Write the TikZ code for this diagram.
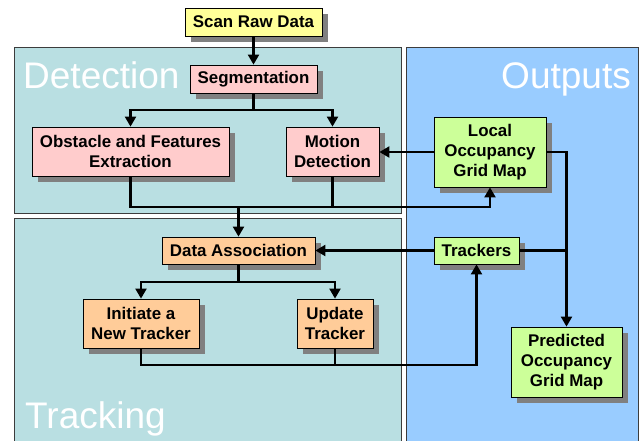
\documentclass[tikz,border=0pt]{standalone}
\usepackage{fontspec}
\setmainfont{Liberation Sans}
\usetikzlibrary{arrows.meta,shadows,calc}
\definecolor{panelcyan}{RGB}{185,223,226}
\definecolor{panelblue}{RGB}{153,204,255}
\definecolor{byellow}{RGB}{255,255,153}
\definecolor{bpink}{RGB}{255,204,204}
\definecolor{borange}{RGB}{255,204,153}
\definecolor{bgreen}{RGB}{204,255,153}
\definecolor{shadowgray}{RGB}{128,128,128}
\definecolor{paneledge}{RGB}{60,60,60}
\tikzset{
  box/.style={draw=black, line width=0.8pt, align=center, inner sep=0pt,
    font=\fontsize{16.9}{20}\selectfont\bfseries,
    drop shadow={shadow xshift=6pt, shadow yshift=-6pt, fill=shadowgray, opacity=1}},
  panel/.style={draw=paneledge, line width=0.9pt},
  biglabel/.style={text=white, font=\fontsize{37}{40}\selectfont, inner sep=0pt},
  ln/.style={draw=black, line width=2.1pt},
  arr/.style={ln, -{Triangle[length=10pt,width=11pt]}}
}
\begin{document}
\begin{tikzpicture}[x=1pt,y=-1pt]
\useasboundingbox (0,0) rectangle (639,440);
\fill[white] (0,0) rectangle (639,440);
% panels
\draw[panel, fill=panelcyan] (14,47) rectangle (401,213);
\draw[panel, fill=panelcyan] (14,218) rectangle (401,446);
\draw[panel, fill=panelblue] (406,47) rectangle (638,446);
\node[biglabel, anchor=base west] (ldet) at (23,88) {Detection};
\node[biglabel, anchor=base east] (lout) at (631,88) {Outputs};
\node[biglabel, anchor=base west] (ltrk) at (25,428) {Tracking};
% boxes
\node[box, fill=byellow, minimum width=137pt, minimum height=28pt] (scan) at (253.5,22) {Scan Raw Data};
\node[box, fill=bpink, minimum width=127pt, minimum height=28pt] (seg) at (253.5,79) {Segmentation};
\node[box, fill=bpink, minimum width=197pt, minimum height=49pt] (obst) at (130.5,151.5) {Obstacle and Features\\Extraction};
\node[box, fill=bpink, minimum width=93pt, minimum height=49pt] (motion) at (332.5,151.5) {Motion\\Detection};
\node[box, fill=bgreen, minimum width=112pt, minimum height=70pt] (local) at (490,152) {Local\\Occupancy\\Grid Map};
\node[box, fill=borange, minimum width=153pt, minimum height=27pt] (assoc) at (238.5,250.5) {Data Association};
\node[box, fill=borange, minimum width=116pt, minimum height=49pt] (init) at (141,323.5) {Initiate a\\New Tracker};
\node[box, fill=borange, minimum width=76pt, minimum height=49pt] (update) at (335,323.5) {Update\\Tracker};
\node[box, fill=bgreen, minimum width=85pt, minimum height=27pt] (trackers) at (476.5,250.5) {Trackers};
\node[box, fill=bgreen, minimum width=111pt, minimum height=70pt] (pred) at (566.5,362) {Predicted\\Occupancy\\Grid Map};
% junctions
\coordinate (j1) at (253.5,110);
\coordinate (j3) at (490,207);
\coordinate (j2) at (238.5,207);
\coordinate (j4) at (238.5,282);
\coordinate (j5) at (476.5,365);
% connectors
\draw[arr] (scan) -- (seg);
\draw[ln] (seg) -- (j1);
\draw[arr] (j1) -| (obst);
\draw[arr] (j1) -| (motion);
\draw[arr] (obst) |- (j3) -- (local);
\draw[ln] (motion) -- (motion |- j3);
\draw[arr] (j2) -- (assoc);
\draw[arr] (local.west) -- (local.west -| motion.east);
\draw[arr] (local) -| (pred);
\draw[ln] (trackers) -- (trackers -| pred);
\draw[arr] (trackers) -- (assoc);
\draw[ln] (assoc) -- (j4);
\draw[arr] (j4) -| (init);
\draw[arr] (j4) -| (update);
\draw[arr] (init) |- (j5) -- (trackers);
\draw[ln] (update) -- (update |- j5);
\end{tikzpicture}
\end{document}
